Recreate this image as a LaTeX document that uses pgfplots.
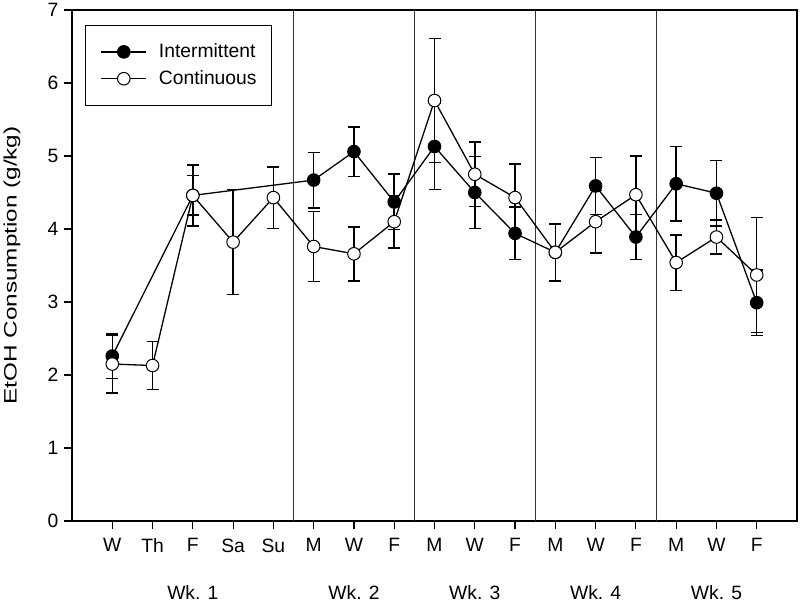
\documentclass[border=0pt]{standalone}
\usepackage{pgfplots}
\pgfplotsset{compat=1.18}
\usepackage{fontspec}
\setmainfont{Liberation Sans}
\begin{document}
\fontsize{19.3}{23}\selectfont
\begin{tikzpicture}
\path[use as bounding box] (0,0) rectangle (800pt,604pt);
\begin{axis}[
  at={(72pt,83pt)}, anchor=south west,
  scale only axis, width=725pt, height=511pt,
  xmin=-1, xmax=17, ymin=0, ymax=7,
  xtick={0,...,16},
  xticklabels={W,Th,F,Sa,Su,M,W,F,M,W,F,M,W,F,M,W,F},
  ytick={0,1,...,7},
  tick align=outside, major tick length=8pt,
  tick style={line width=1.2pt, black},
  xtick pos=bottom, ytick pos=left,
  axis line style={line width=1.3pt},
  /pgf/number format/assume math mode=true,
  tick label style={font=\fontsize{19.3}{23}\selectfont},
  xticklabel style={yshift=-3pt},
  yticklabel style={xshift=1pt},
  every axis y label/.style={at={(rel axis cs:0,0.5)}, xshift=-60pt, rotate=90, anchor=center, inner sep=0pt},
  ylabel={\fontsize{18}{22}\selectfont\scalebox{1.35}[1]{EtOH Consumption (g/kg)}},
  clip=false,
  legend style={at={(0.018,0.971)}, anchor=north west, draw=black, line width=1.2pt,
    font=\fontsize{19.3}{23}\selectfont, nodes={inner sep=0pt}, row sep=10pt,
    inner xsep=15pt, inner ysep=18pt,
    /tikz/every odd column/.append style={column sep=12pt}},
  legend cell align=left,
  legend image code/.code={\draw[mark repeat=2,mark phase=2,#1] plot coordinates {(0pt,0pt) (22.5pt,0pt) (45pt,0pt)};},
]
\addplot[forget plot, line width=0.8pt, black!80] coordinates {(4.5,0) (4.5,7)};
\addplot[forget plot, line width=0.8pt, black!80] coordinates {(7.5,0) (7.5,7)};
\addplot[forget plot, line width=0.8pt, black!80] coordinates {(10.5,0) (10.5,7)};
\addplot[forget plot, line width=0.8pt, black!80] coordinates {(13.5,0) (13.5,7)};

\addplot[black, line width=1.3pt, mark=*, mark size=6.3pt, mark options={fill=black, line width=1pt},
  error bars/.cd, y dir=both, y explicit,
  error bar style={line width=1.5pt, black},
  error mark options={rotate=90, mark size=6pt, line width=1.5pt, black}]
 coordinates {
 (0,2.26) +- (0,0.31)
 (2,4.46) +- (0,0.42)
 (5,4.67) +- (0,0.38)
 (6,5.06) +- (0,0.34)
 (7,4.37) +- (0,0.38)
 (8,5.13) +- (0,0.59)
 (9,4.50) +- (0,0.49)
 (10,3.94) +- (0,0.36)
 (11,3.68) +- (0,0.39)
 (12,4.59) +- (0,0.39)
 (13,3.89) +- (0,0.31)
 (14,4.62) +- (0,0.51)
 (15,4.49) +- (0,0.45)
 (16,2.99) +- (0,0.45)
 };
\addlegendentry{Intermittent}

\addplot[black, line width=1.3pt, mark=*, mark size=6.3pt, mark options={fill=white, line width=1pt},
  error bars/.cd, y dir=both, y explicit,
  error bar style={line width=1.5pt, black},
  error mark options={rotate=90, mark size=6pt, line width=1.5pt, black}]
 coordinates {
 (0,2.15) +- (0,0.40)
 (1,2.13) +- (0,0.33)
 (2,4.46) +- (0,0.27)
 (3,3.82) +- (0,0.72)
 (4,4.43) +- (0,0.42)
 (5,3.76) +- (0,0.48)
 (6,3.66) +- (0,0.37)
 (7,4.10) +- (0,0.36)
 (8,5.76) +- (0,0.85)
 (9,4.75) +- (0,0.44)
 (10,4.43) +- (0,0.46)
 (11,3.68) +- (0,0.39)
 (12,4.10) +- (0,0.43)
 (13,4.47) +- (0,0.53)
 (14,3.54) +- (0,0.38)
 (15,3.89) +- (0,0.23)
 (16,3.37) +- (0,0.79)
 };
\addlegendentry{Continuous}

\node[anchor=center, inner sep=0pt] at (axis cs:2,0) [yshift=-72pt] {Wk. 1};
\node[anchor=center, inner sep=0pt] at (axis cs:6,0) [yshift=-72pt] {Wk. 2};
\node[anchor=center, inner sep=0pt] at (axis cs:9,0) [yshift=-72pt] {Wk. 3};
\node[anchor=center, inner sep=0pt] at (axis cs:12,0) [yshift=-72pt] {Wk. 4};
\node[anchor=center, inner sep=0pt] at (axis cs:15,0) [yshift=-72pt] {Wk. 5};
\end{axis}
\end{tikzpicture}
\end{document}
